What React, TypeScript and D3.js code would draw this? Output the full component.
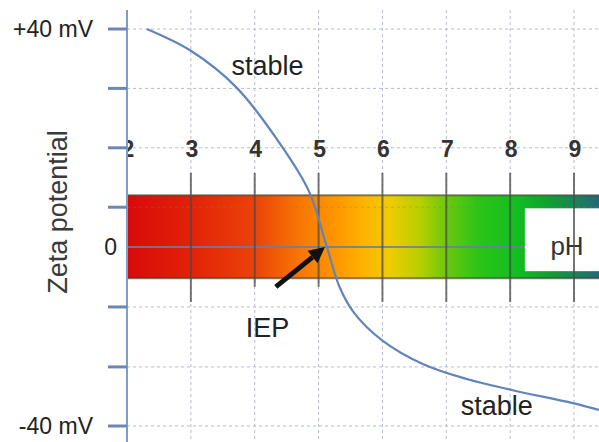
import React, { useEffect, useRef } from 'react';
import * as d3 from 'd3';

// pH scale shown across the bar
const phTicks = [2, 3, 4, 5, 6, 7, 8, 9];
const shortPhTicks = [4, 5];

// zeta potential (mV) – labelled ticks and grid rows
const yLabels = [
    { value: 40, text: '+40 mV' },
    { value: 0, text: '0' },
    { value: -40, text: '-40 mV' },
];
const yGridValues = [40, 29.1, 18.2, 7.3, -13.4, -26.8, -40];

// zeta potential curve: [pH, mV]
const curvePh = [2.31, 3.0, 3.72, 4.44, 4.85, 5.13, 5.33, 5.55, 5.99, 6.64, 7.32, 8.04, 8.98, 9.39];
const curveMv = [40, 36, 29.2, 18.2, 10.2, 0, -9.0, -14.6, -20.8, -26.2, -29.5, -32.0, -34.9, -36.4];

// isoelectric point and the arrow pointing at it
const iepPh = 5.1;
const arrowTail = [4.33, -8.9];

// colour bar stops: [pH, colour]
const barStops: [number, string][] = [
    [2.0, '#d80a0a'],
    [3.0, '#e22208'],
    [4.0, '#ec4208'],
    [4.7, '#f87604'],
    [5.3, '#ff9800'],
    [5.7, '#ffb200'],
    [6.1, '#f0cc00'],
    [6.6, '#b6cf00'],
    [7.0, '#6cc80c'],
    [7.5, '#2cc418'],
    [8.1, '#12be20'],
    [8.6, '#10a032'],
    [9.4, '#246878'],
];

const W = 599;
const H = 442;
const FONT = '"Liberation Sans", Arial, sans-serif';

const App = () => {
    const svgRef = useRef(null);

    useEffect(() => {
        if (!svgRef.current) return;
        const svg = d3.select(svgRef.current);
        svg.selectAll('*').remove();

        const x = d3.scaleLinear().domain([2, 3]).range([127, 190.86]);
        // the figure is a sketch: the zero row sits lower than the middle
        const y = d3.scaleLinear().domain([-40, 0, 40]).range([426, 247, 29]);

        const top = 10;
        const right = W;

        const defs = svg.append('defs');
        const grad = defs.append('linearGradient')
            .attr('id', 'ph-bar')
            .attr('gradientUnits', 'userSpaceOnUse')
            .attr('x1', x(2)).attr('x2', right)
            .attr('y1', 0).attr('y2', 0);
        const x0 = x(2);
        barStops.forEach(([ph, c]) => {
            grad.append('stop')
                .attr('offset', Math.min(1, (x(ph) - x0) / (right - x0)))
                .attr('stop-color', c);
        });
        defs.append('clipPath').attr('id', 'plot-clip')
            .append('rect').attr('x', x(2)).attr('y', 0).attr('width', right - x(2)).attr('height', H);

        // grid
        const grid = svg.append('g').attr('stroke', '#b4bccb').attr('stroke-width', 1).attr('stroke-dasharray', '3,3');
        phTicks.filter(d => d > 2).forEach(d => {
            grid.append('line').attr('x1', x(d)).attr('x2', x(d)).attr('y1', top).attr('y2', H);
        });
        yGridValues.forEach(v => {
            grid.append('line').attr('x1', x(2)).attr('x2', right).attr('y1', y(v)).attr('y2', y(v));
        });

        // colour bar
        const barTop = y(9.5);
        const barBot = y(-7.0);
        svg.append('rect')
            .attr('x', x(2)).attr('y', barTop)
            .attr('width', right - x(2)).attr('height', barBot - barTop)
            .attr('fill', 'url(#ph-bar)');
        svg.append('line')
            .attr('x1', x(2)).attr('x2', right).attr('y1', barTop).attr('y2', barTop)
            .attr('stroke', '#3a3a2a').attr('stroke-opacity', 0.6).attr('stroke-width', 2);
        svg.append('line')
            .attr('x1', x(2)).attr('x2', right).attr('y1', barBot).attr('y2', barBot)
            .attr('stroke', '#3a3a2a').attr('stroke-opacity', 0.6).attr('stroke-width', 2);
        // faint grid row through the bar
        svg.append('line')
            .attr('x1', x(2)).attr('x2', right).attr('y1', y(7.3)).attr('y2', y(7.3))
            .attr('stroke', '#8a7a6a').attr('stroke-opacity', 0.35).attr('stroke-width', 1)
            .attr('stroke-dasharray', '3,3');
        // zero line
        svg.append('line')
            .attr('x1', x(2)).attr('x2', right).attr('y1', y(0)).attr('y2', y(0))
            .attr('stroke', '#6f7f95').attr('stroke-opacity', 0.85).attr('stroke-width', 2);

        // white pH box
        svg.append('rect')
            .attr('x', x(8.23)).attr('y', y(7.1))
            .attr('width', right - x(8.23)).attr('height', y(-5.4) - y(7.1))
            .attr('fill', '#fff');
        svg.append('text')
            .attr('x', 567).attr('y', y(0) + 8)
            .attr('text-anchor', 'middle')
            .attr('font-family', FONT).attr('font-size', 26)
            .attr('fill', '#333')
            .text('pH');

        // pH tick lines
        phTicks.filter(d => d > 2).forEach(d => {
            svg.append('line')
                .attr('x1', x(d)).attr('x2', x(d))
                .attr('y1', y(13.6))
                .attr('y2', shortPhTicks.includes(d) ? y(-8.9) : y(-12.3))
                .attr('stroke', '#4a4a4a').attr('stroke-opacity', 0.75).attr('stroke-width', 2);
        });

        // pH labels
        svg.append('g').attr('clip-path', 'url(#plot-clip)')
            .selectAll('text').data(phTicks).join('text')
            .attr('x', d => x(d) + 1).attr('y', y(18.2) + 9)
            .attr('text-anchor', 'middle')
            .attr('font-family', FONT).attr('font-size', 23).attr('font-weight', 'bold')
            .attr('fill', '#333')
            .text(d => d);

        // y axis
        svg.append('line')
            .attr('x1', x(2)).attr('x2', x(2)).attr('y1', top).attr('y2', H)
            .attr('stroke', '#7f9ccb').attr('stroke-width', 2);
        yGridValues.forEach(v => {
            svg.append('line')
                .attr('x1', x(2) - 19).attr('x2', x(2)).attr('y1', y(v)).attr('y2', y(v))
                .attr('stroke', '#6c87b6').attr('stroke-width', 3);
        });
        yLabels.forEach(l => {
            svg.append('text')
                .attr('x', l.value === 0 ? 117 : 93).attr('y', y(l.value) + 8)
                .attr('text-anchor', 'end')
                .attr('font-family', FONT).attr('font-size', 23)
                .attr('fill', '#222')
                .text(l.text);
        });
        svg.append('text')
            .attr('transform', `translate(67,${212}) rotate(-90)`)
            .attr('text-anchor', 'middle')
            .attr('font-family', FONT).attr('font-size', 27)
            .attr('fill', '#3a3a3a')
            .text('Zeta potential');

        // curve
        const pts: [number, number][] = curvePh.map((p, i) => [p, curveMv[i]]);
        const line = d3.line<[number, number]>()
            .x(d => x(d[0]))
            .y(d => y(d[1]))
            .curve(d3.curveCatmullRom.alpha(0.5));
        svg.append('path')
            .datum(pts)
            .attr('d', line)
            .attr('fill', 'none')
            .attr('stroke', '#6184bb')
            .attr('stroke-width', 2.2);

        // IEP arrow
        const tx = x(arrowTail[0]), ty = y(arrowTail[1]);
        const hx = x(iepPh), hy = y(0);
        const ang = Math.atan2(hy - ty, hx - tx);
        const headLen = 16, headW = 8;
        const bx = hx - headLen * Math.cos(ang), by = hy - headLen * Math.sin(ang);
        svg.append('line')
            .attr('x1', tx).attr('y1', ty).attr('x2', bx).attr('y2', by)
            .attr('stroke', '#111').attr('stroke-width', 5);
        svg.append('path')
            .attr('d', `M${hx},${hy} L${bx + headW * Math.sin(ang)},${by - headW * Math.cos(ang)} L${bx - headW * Math.sin(ang)},${by + headW * Math.cos(ang)} Z`)
            .attr('fill', '#111');

        // annotations
        const note = (txt, px, py) => svg.append('text')
            .attr('x', px).attr('y', py)
            .attr('text-anchor', 'middle')
            .attr('font-family', FONT).attr('font-size', 27)
            .attr('fill', '#222')
            .text(txt);
        note('stable', x(4.2), y(31.5));
        note('IEP', x(4.2), y(-20.2));
        note('stable', x(7.79), y(-37.6));
    }, []);

    return (
        <svg
            ref={svgRef}
            width={W}
            height={H}
            style={{ position: 'absolute', left: 0, top: 0, background: '#fff' }}
        />
    );
};

export default App;
